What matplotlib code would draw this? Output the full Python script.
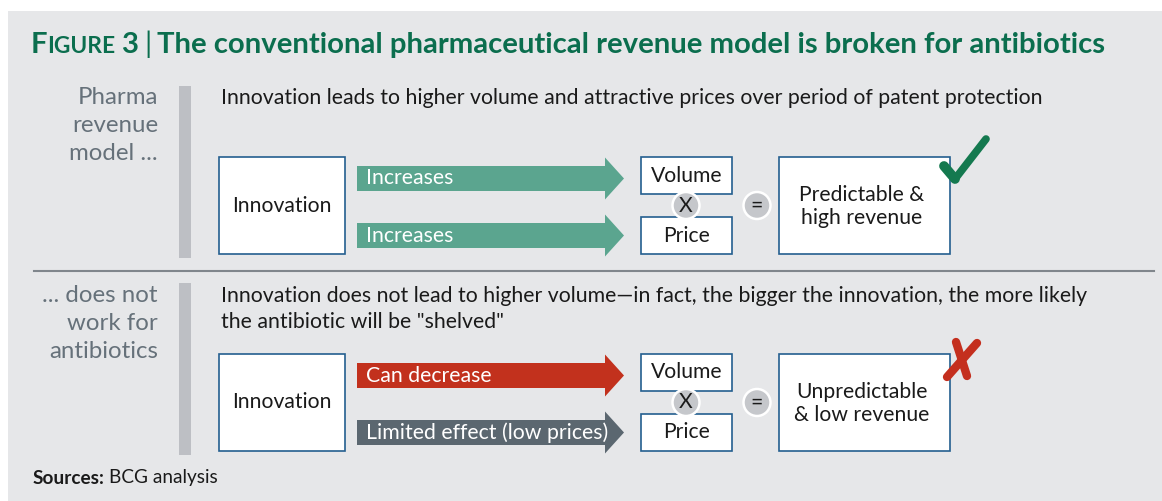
import matplotlib.pyplot as plt
from matplotlib.patches import Rectangle, Circle, FancyArrow

# texts of the diagram
title_text = "The conventional pharmaceutical revenue model is broken for antibiotics"
row_labels = [["Pharma", "revenue", "model ..."], ["... does not", "work for", "antibiotics"]]
headlines = [["Innovation leads to higher volume and attractive prices over period of patent protection"],
             ["Innovation does not lead to higher volume\u2014in fact, the bigger the innovation, the more likely",
              "the antibiotic will be \"shelved\""]]
source_box = "Innovation"
volume_arrows = ["Increases", "Can decrease"]
price_arrows = ["Increases", "Limited effect (low prices)"]
volume_colors = ["#5ba58f", "#c2311d"]
price_colors = ["#5ba58f", "#5b6770"]
factors = ["Volume", "Price"]
results = [["Predictable &", "high revenue"], ["Unpredictable", "& low revenue"]]
verdicts = ["check", "cross"]
source_note = "BCG analysis"

FONT = "Lato"
GREEN = "#0b6e4e"
EDGE = "#245f8f"

fig = plt.figure(figsize=(11.62, 5.01), dpi=100)
fig.patch.set_facecolor("white")
ax = fig.add_axes([0, 0, 1, 1])
ax.set_xlim(0, 1162)
ax.set_ylim(501, 0)
ax.axis("off")
renderer = fig.canvas.get_renderer()


# font size so that a line of text gets a given pixel width
def fit(s, width, weight="normal", size=14):
    t = ax.text(0, 0, s, fontsize=size, family=FONT, weight=weight)
    w = t.get_window_extent(renderer).width
    t.remove()
    return size * width / w


def text_width(t):
    return t.get_window_extent(renderer).width


# background panel
ax.add_patch(Rectangle((8, 11), 1154, 490, fc="#e6e7e9", ec="none"))


# title with small caps "Figure"
def lay_title(S, keep):
    x = 31
    px = S * 100 / 72
    parts = [("F", S, "bold", 0), ("IGURE", 0.78 * S, "bold", 0.2), ("3", S, "bold", 0.2),
             ("|", S, "normal", 0.2), (title_text, S, "bold", 0)]
    made = []
    for s, size, wt, gap in parts:
        t = ax.text(x, 53, s, fontsize=size, family=FONT, weight=wt, color=GREEN, va="baseline")
        made.append(t)
        x += text_width(t) + gap * px
    if not keep:
        for t in made:
            t.remove()
    return x - 31


S = 18
total = lay_title(S, False)
lay_title(S * 1076 / total, True)

body_size = fit(headlines[0][0], 822)
label_size = fit("antibiotics", 109)
arrow_size = fit(price_arrows[1], 242)
box_size = fit(source_box, 100)

label_y = [97, 295]
bar_top = [86, 283]
row_top = [157, 354]

for i in range(2):
    # left label
    for k, line in enumerate(row_labels[i]):
        ax.text(158, label_y[i] + 28.5 * k, line, fontsize=label_size, family=FONT,
                color="#66717a", ha="right", va="center")
    # vertical bar
    ax.add_patch(Rectangle((179, bar_top[i]), 12, 172, fc="#bdbfc4", ec="none"))
    # headline
    for k, line in enumerate(headlines[i]):
        ax.text(221, label_y[i] + 1 + 26.5 * k, line, fontsize=body_size, family=FONT,
                color="#1a1a1a", ha="left", va="center")

    y0 = row_top[i]
    # innovation box
    ax.add_patch(Rectangle((219, y0), 126, 97, fc="white", ec=EDGE, lw=1.2))
    ax.text(282, y0 + 48.5, source_box, fontsize=box_size, family=FONT, color="#1a1a1a",
            ha="center", va="center")

    # arrows
    for yc, lab, col in [(y0 + 21.5, volume_arrows[i], volume_colors[i]),
                         (y0 + 78.5, price_arrows[i], price_colors[i])]:
        ax.add_patch(FancyArrow(357, yc, 267, 0, width=25, head_width=42, head_length=19,
                                length_includes_head=True, fc=col, ec="none"))
        ax.text(366, yc, lab, fontsize=arrow_size, family=FONT, color="white",
                ha="left", va="center")

    # volume / price boxes
    for yb, lab in [(y0, factors[0]), (y0 + 60, factors[1])]:
        ax.add_patch(Rectangle((641, yb), 91, 37, fc="white", ec=EDGE, lw=1.2))
        ax.text(686.5, yb + 18.5, lab, fontsize=box_size, family=FONT, color="#1a1a1a",
                ha="center", va="center")

    # operators
    for xc, sym in [(686, "X"), (757, "=")]:
        ax.add_patch(Circle((xc, y0 + 48.5), 13.5, fc="#c5c7cb", ec="white", lw=1.8, zorder=3))
        ax.text(xc, y0 + 48.5, sym, fontsize=box_size, family=FONT, color="#1a1a1a",
                ha="center", va="center", zorder=4)

    # result box
    ax.add_patch(Rectangle((779, y0), 171, 97, fc="white", ec=EDGE, lw=1.2))
    for k, line in enumerate(results[i]):
        ax.text(862, y0 + 38 + 23 * k, line, fontsize=box_size, family=FONT, color="#1a1a1a",
                ha="center", va="center")

    # verdict mark
    if verdicts[i] == "check":
        ax.plot([944, 955], [y0 + 9, y0 + 22], color="#14794f", lw=7,
                solid_capstyle="round", zorder=5)
        ax.plot([955, 986], [y0 + 22, y0 - 18], color="#14794f", lw=5.5,
                solid_capstyle="round", zorder=5)
    else:
        ax.plot([956, 967], [y0 - 12, y0 + 22], color="#c42f1e", lw=6, solid_capstyle="round", zorder=5)
        ax.plot([977, 947], [y0 - 11, y0 + 23], color="#c42f1e", lw=6, solid_capstyle="round", zorder=5)

# separator
ax.plot([34, 1154], [271, 271], color="#80868c", lw=1.5)

# source note
note_size = fit("Sources: " + source_note, 185)
t = ax.text(33, 478, "Sources:", fontsize=note_size, family=FONT, weight="bold",
            color="#1a1a1a", va="center")
ax.text(33 + text_width(t) + note_size * 0.3, 478, source_note, fontsize=note_size, family=FONT,
        color="#1a1a1a", va="center")

fig.savefig("out.png", dpi=100)
